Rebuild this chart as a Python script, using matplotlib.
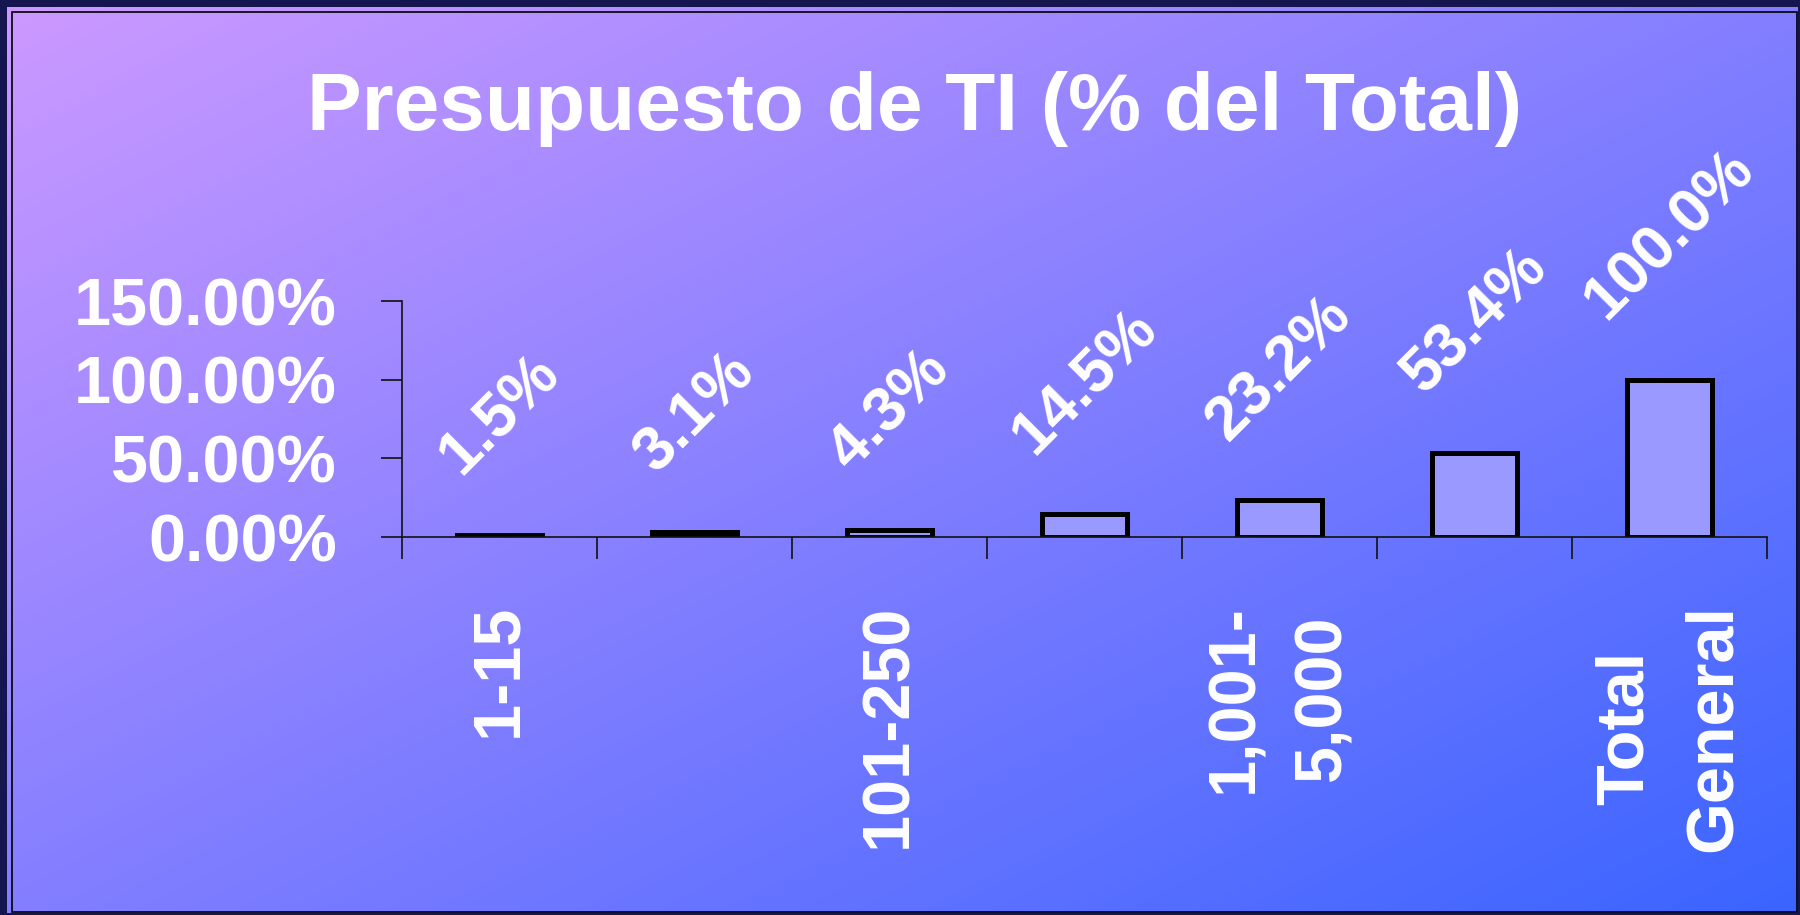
import numpy as np
import matplotlib
matplotlib.use("Agg")
import matplotlib.pyplot as plt
from matplotlib.patches import Rectangle

plt.rcParams['font.family'] = ['Liberation Sans', 'DejaVu Sans']
plt.rcParams['font.weight'] = 'bold'

# data
values = [1.5, 3.1, 4.3, 14.5, 23.2, 53.4, 100.0]
value_labels = ["1.5%", "3.1%", "4.3%", "14.5%", "23.2%", "53.4%", "100.0%"]
# excel skipped every other category label
tick_labels = ["1-15", "", "101-250", "", "1,001-\n5,000", "", "Total\nGeneral"]
yticks = [0, 50, 100, 150]
title = "Presupuesto de TI (% del Total)"

W, H = 1800, 915
fig = plt.figure(figsize=(W / 100, H / 100), dpi=100)
fig.patch.set_facecolor("#15154f")

# gradient background, light purple top-left to blue bottom-right
bg = fig.add_axes([7 / W, 2 / H, (1798 - 7) / W, (913 - 7) / H])
bg.set_zorder(-10)
gx, gy = np.meshgrid(np.linspace(0, 1, W), np.linspace(0, 1, H))
t = (gx + gy) / 2
c0 = np.array([204, 153, 255]) / 255
c1 = np.array([58, 100, 255]) / 255
img = c0[None, None, :] * (1 - t[..., None]) + c1[None, None, :] * t[..., None]
bg.imshow(img, aspect='auto', interpolation='bilinear')
bg.axis('off')

fig.patches.append(Rectangle((12 / W, 3 / H), (1797 - 12) / W, (903 - 3) / H,
                             transform=fig.transFigure, fill=False,
                             edgecolor='black', linewidth=1.2))

ax = fig.add_axes([402 / W, 378 / H, (1767 - 402) / W, 236 / H])
ax.set_facecolor('none')
x = np.arange(len(values))
ax.bar(x, values, width=0.44, color='#9999ff', edgecolor='black', linewidth=3.6)

for xi, v, lab in zip(x, values, value_labels):
    ax.annotate(lab, (xi, v), xytext=(0, 35), textcoords='offset points',
                rotation=45, ha='center', va='bottom', color='white',
                fontsize=45, fontweight='bold')

ax.set_xlim(-0.5, len(values) - 0.5)
ax.set_ylim(0, 150)
ax.set_yticks(yticks)
ax.set_yticklabels(["%.2f%%" % v for v in yticks])
ax.set_xticks(x)
ax.set_xticklabels(tick_labels, rotation=90, linespacing=1.55)
ax.set_xticks(np.arange(-0.5, len(values)), minor=True)

for s in ['top', 'right']:
    ax.spines[s].set_visible(False)
for s in ['left', 'bottom']:
    ax.spines[s].set_linewidth(1.2)
    ax.spines[s].set_color('#111111')

ax.tick_params(axis='y', length=15, width=1.2, color='#111111', pad=32,
               labelsize=48, labelcolor='white')
ax.tick_params(axis='x', which='major', length=0, pad=48,
               labelsize=48, labelcolor='white')
ax.tick_params(axis='x', which='minor', length=16, width=1.2, color='#111111')

fig.text(915 / W, (H - 130) / H, title, ha='center', va='baseline',
         color='white', fontsize=59, fontweight='bold')

fig.savefig("out.png", dpi=100, facecolor=fig.get_facecolor())
